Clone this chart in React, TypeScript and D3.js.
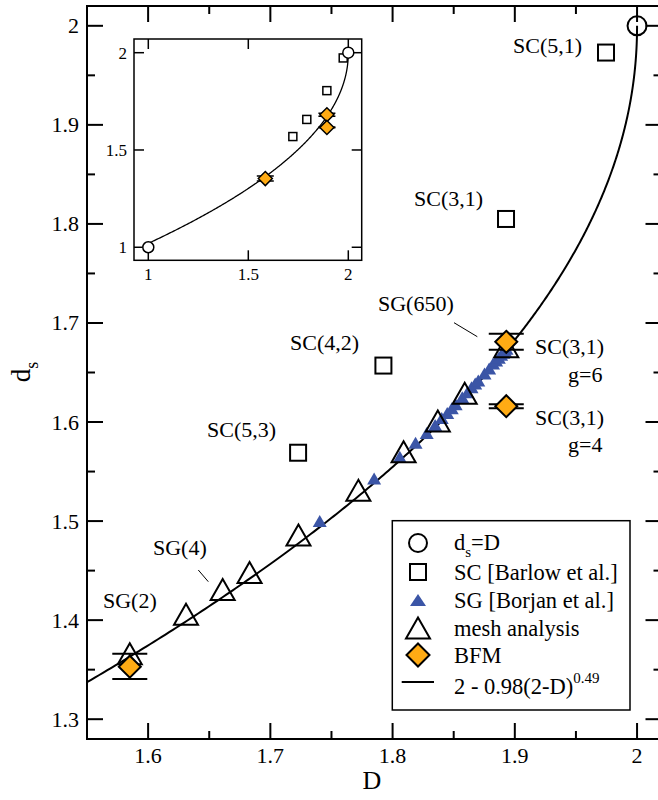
import React from "react";
import * as d3 from "d3";

// ---------- data ----------
const CIRCLE_D = [2.0];
const CIRCLE_DS = [2.0];
const INSET_CIRCLE_D = [1.0, 2.0];
const INSET_CIRCLE_DS = [1.0, 2.0];

const SC_D = [1.9746, 1.8928, 1.7925, 1.7227];
const SC_DS = [1.973, 1.805, 1.657, 1.569];

const SG_BORJAN_D = [1.7404, 1.7849, 1.8059, 1.8188, 1.8279, 1.8348, 1.8402, 1.8447, 1.8484, 1.8516, 1.857, 1.8612, 1.8646, 1.8676, 1.8701, 1.8752, 1.879, 1.8822, 1.8847, 1.8869, 1.8888, 1.8905, 1.8919, 1.8932];
const SG_BORJAN_DS = [1.5, 1.543, 1.565, 1.579, 1.589, 1.597, 1.604, 1.609, 1.614, 1.618, 1.625, 1.63, 1.635, 1.639, 1.642, 1.649, 1.654, 1.659, 1.662, 1.665, 1.668, 1.67, 1.672, 1.674];

const MESH_D = [1.585, 1.631, 1.661, 1.683, 1.723, 1.772, 1.809, 1.837, 1.859, 1.893];
const MESH_DS = [1.366, 1.406, 1.431, 1.448, 1.486, 1.531, 1.57, 1.601, 1.629, 1.676];

const BFM_D = [1.585, 1.893, 1.893];
const BFM_DS = [1.353, 1.681, 1.616];
const BFM_LO = [1.3405, 1.673, 1.614];
const BFM_HI = [1.366, 1.689, 1.618];

const FIT_A = 0.98;
const FIT_P = 0.49;

const X_TICKS = [1.6, 1.7, 1.8, 1.9, 2.0];
const X_TICK_LABELS = ["1.6", "1.7", "1.8", "1.9", "2"];
const X_MINOR = [1.55, 1.65, 1.75, 1.85, 1.95];
const Y_TICKS = [1.3, 1.4, 1.5, 1.6, 1.7, 1.8, 1.9, 2.0];
const Y_TICK_LABELS = ["1.3", "1.4", "1.5", "1.6", "1.7", "1.8", "1.9", "2"];
const Y_MINOR = [1.35, 1.45, 1.55, 1.65, 1.75, 1.85, 1.95];
const INSET_TICKS = [1, 1.5, 2];
const INSET_TICK_LABELS = ["1", "1.5", "2"];

const LEGEND_LABELS = ["SC [Barlow et al.]", "SG [Borjan et al.]", "mesh analysis", "BFM"];

// ---------- styling ----------
const FONT = '"Liberation Serif", Tinos, "Times New Roman", "DejaVu Serif", serif';
const ORANGE = "#ffab14";
const BLUE = "#3b55a6";

const M = { left: 87, top: 6, right: 661.5, bottom: 739 };
const I = { left: 134, top: 39, right: 361.7, bottom: 260.3 };

function fit(D: number) {
  return 2 - FIT_A * Math.pow(Math.max(0, 2 - D), FIT_P);
}

function tri(cx: number, cy: number, w: number, h: number) {
  return `M${cx},${cy - h / 2}L${cx - w / 2},${cy + h / 2}L${cx + w / 2},${cy + h / 2}Z`;
}
function diamond(cx: number, cy: number, r: number) {
  return `M${cx},${cy - r}L${cx + r},${cy}L${cx},${cy + r}L${cx - r},${cy}Z`;
}

export default function App() {
  const x = d3.scaleLinear().domain([1.55, 2.02]).range([M.left, M.right]);
  const y = d3.scaleLinear().domain([1.28, 2.02]).range([M.bottom, M.top]);
  const xi = d3.scaleLinear().domain([0.9285, 2.067]).range([I.left, I.right]);
  const yi = d3.scaleLinear().domain([0.933, 2.0704]).range([I.bottom, I.top]);

  const sMain = d3.range(0, 1.0001, 0.0025).map((s) => 2 - 0.45 * Math.pow(1 - s, 3));
  const lineMain = d3
    .line<number>()
    .x((d) => x(d))
    .y((d) => y(fit(d)));
  const sIn = d3.range(0, 1.0001, 0.0025).map((s) => 2 - 1.0 * Math.pow(1 - s, 3));
  const lineIn = d3
    .line<number>()
    .x((d) => xi(d))
    .y((d) => yi(fit(d)));

  const legendRows = [543, 572, 600, 628, 655, 682];
  const lx = 418;
  const tx = 454;
  const tStyle = { fontFamily: FONT };

  return (
    <svg
      width={658}
      height={800}
      style={{ position: "absolute", left: 0, top: 0, background: "#fff", fontFamily: FONT }}
    >
      <defs>
        <clipPath id="mainclip">
          <rect x={M.left} y={M.top} width={M.right - M.left} height={M.bottom - M.top} />
        </clipPath>
        <clipPath id="insetclip">
          <rect x={I.left} y={I.top} width={I.right - I.left} height={I.bottom - I.top} />
        </clipPath>
      </defs>
      <rect x={0} y={0} width={658} height={800} fill="#fff" />

      {/* main frame */}
      <rect
        x={M.left}
        y={M.top}
        width={M.right - M.left}
        height={M.bottom - M.top}
        fill="none"
        stroke="#000"
        strokeWidth={2}
      />
      {X_TICKS.map((t) => (
        <g key={"xt" + t}>
          <line x1={x(t)} x2={x(t)} y1={M.bottom} y2={M.bottom - 16} stroke="#000" strokeWidth={2} />
          <line x1={x(t)} x2={x(t)} y1={M.top} y2={M.top + 16} stroke="#000" strokeWidth={2} />
        </g>
      ))}
      {X_MINOR.map((t) => (
        <g key={"xm" + t}>
          <line x1={x(t)} x2={x(t)} y1={M.bottom} y2={M.bottom - 8} stroke="#000" strokeWidth={2} />
          <line x1={x(t)} x2={x(t)} y1={M.top} y2={M.top + 8} stroke="#000" strokeWidth={2} />
        </g>
      ))}
      {Y_TICKS.map((t) => (
        <g key={"yt" + t}>
          <line x1={M.left} x2={M.left + 16} y1={y(t)} y2={y(t)} stroke="#000" strokeWidth={2} />
          <line x1={M.right} x2={M.right - 16} y1={y(t)} y2={y(t)} stroke="#000" strokeWidth={2} />
        </g>
      ))}
      {Y_MINOR.map((t) => (
        <g key={"ym" + t}>
          <line x1={M.left} x2={M.left + 8} y1={y(t)} y2={y(t)} stroke="#000" strokeWidth={2} />
          <line x1={M.right} x2={M.right - 8} y1={y(t)} y2={y(t)} stroke="#000" strokeWidth={2} />
        </g>
      ))}
      {X_TICKS.map((t, i) => (
        <text key={"xl" + t} x={x(t)} y={763} fontSize={22} textAnchor="middle" style={tStyle}>
          {X_TICK_LABELS[i]}
        </text>
      ))}
      {Y_TICKS.map((t, i) => (
        <text key={"yl" + t} x={79} y={y(t) + 7.5} fontSize={22} textAnchor="end" style={tStyle}>
          {Y_TICK_LABELS[i]}
        </text>
      ))}
      <text x={372} y={789} fontSize={26} textAnchor="middle" style={tStyle}>
        D
      </text>
      <text transform="translate(30,372) rotate(-90)" fontSize={27} textAnchor="middle" style={tStyle}>
        d
        <tspan fontSize={18} dy={8}>
          s
        </tspan>
      </text>

      {/* plot content */}
      <g clipPath="url(#mainclip)">
        <path d={lineMain(sMain) || ""} fill="none" stroke="#000" strokeWidth={2} />
        {SG_BORJAN_D.map((d, i) => (
          <path key={"b" + i} d={tri(x(d), y(SG_BORJAN_DS[i]), 14, 12)} fill={BLUE} />
        ))}
        {MESH_D.map((d, i) => (
          <path
            key={"m" + i}
            d={tri(x(d), y(MESH_DS[i]), 24, 21)}
            fill="none"
            stroke="#000"
            strokeWidth={2}
          />
        ))}
        {SC_D.map((d, i) => (
          <rect
            key={"s" + i}
            x={x(d) - 8}
            y={y(SC_DS[i]) - 8}
            width={16}
            height={16}
            fill="none"
            stroke="#000"
            strokeWidth={2}
          />
        ))}
        {BFM_D.map((d, i) => (
          <g key={"e" + i}>
            <line x1={x(d)} x2={x(d)} y1={y(BFM_LO[i])} y2={y(BFM_HI[i])} stroke="#000" strokeWidth={2} />
            <line x1={x(d) - 17.5} x2={x(d) + 17.5} y1={y(BFM_LO[i])} y2={y(BFM_LO[i])} stroke="#000" strokeWidth={2} />
            <line x1={x(d) - 17.5} x2={x(d) + 17.5} y1={y(BFM_HI[i])} y2={y(BFM_HI[i])} stroke="#000" strokeWidth={2} />
          </g>
        ))}
        {BFM_D.map((d, i) => (
          <path key={"f" + i} d={diamond(x(d), y(BFM_DS[i]), 11)} fill={ORANGE} stroke="#000" strokeWidth={2} />
        ))}
        {CIRCLE_D.map((d, i) => (
          <circle key={"c" + i} cx={x(d)} cy={y(CIRCLE_DS[i])} r={9.5} fill="none" stroke="#000" strokeWidth={2} />
        ))}
      </g>

      {/* annotations */}
      <g fontSize={22} style={tStyle}>
        <text x={513} y={53} style={tStyle}>SC(5,1)</text>
        <text x={414} y={206} style={tStyle}>SC(3,1)</text>
        <text x={290} y={350} style={tStyle}>SC(4,2)</text>
        <text x={207} y={437} style={tStyle}>SC(5,3)</text>
        <text x={378} y={311} style={tStyle}>SG(650)</text>
        <text x={535} y={354} style={tStyle}>SC(3,1)</text>
        <text x={568} y={382} style={tStyle}>g=6</text>
        <text x={535} y={425} style={tStyle}>SC(3,1)</text>
        <text x={568} y={452} style={tStyle}>g=4</text>
        <text x={153} y={555} style={tStyle}>SG(4)</text>
        <text x={103} y={608} style={tStyle}>SG(2)</text>
      </g>
      <line x1={454} y1={322.7} x2={477.3} y2={336.7} stroke="#000" strokeWidth={1} />
      <line x1={198.3} y1={570} x2={208.3} y2={581.7} stroke="#000" strokeWidth={1} />

      {/* legend */}
      <rect x={392.3} y={520.7} width={237.7} height={189.3} fill="#fff" stroke="#000" strokeWidth={1.5} />
      <circle cx={lx} cy={legendRows[0]} r={9} fill="none" stroke="#000" strokeWidth={2} />
      <rect x={lx - 8} y={legendRows[1] - 8} width={16} height={16} fill="none" stroke="#000" strokeWidth={2} />
      <path d={tri(lx, legendRows[2], 16, 12)} fill={BLUE} />
      <path d={tri(lx, legendRows[3], 24, 21)} fill="none" stroke="#000" strokeWidth={2} />
      <path d={diamond(lx, legendRows[4], 11.5)} fill={ORANGE} stroke="#000" strokeWidth={2} />
      <line x1={401.7} x2={434} y1={legendRows[5]} y2={legendRows[5]} stroke="#000" strokeWidth={2} />
      <g fontSize={22.5}>
        <text x={tx} y={legendRows[0] + 7} style={tStyle}>
          d<tspan fontSize={15} dy={7}>s</tspan>
          <tspan dy={-7}>=D</tspan>
        </text>
        {LEGEND_LABELS.map((l, i) => (
          <text key={l} x={tx} y={legendRows[i + 1] + 8} style={tStyle}>
            {l}
          </text>
        ))}
        <text x={tx} y={legendRows[5] + 12} style={tStyle}>
          2 - 0.98(2-D)<tspan fontSize={15} dy={-11}>0.49</tspan>
        </text>
      </g>

      {/* inset */}
      <rect
        x={I.left}
        y={I.top}
        width={I.right - I.left}
        height={I.bottom - I.top}
        fill="#fff"
        stroke="#000"
        strokeWidth={1.5}
      />
      {INSET_TICKS.map((t, i) => (
        <g key={"it" + t}>
          <line x1={xi(t)} x2={xi(t)} y1={I.bottom} y2={I.bottom - 10} stroke="#000" strokeWidth={1.5} />
          <line x1={xi(t)} x2={xi(t)} y1={I.top} y2={I.top + 10} stroke="#000" strokeWidth={1.5} />
          <line x1={I.left} x2={I.left + 10} y1={yi(t)} y2={yi(t)} stroke="#000" strokeWidth={1.5} />
          <line x1={I.right} x2={I.right - 10} y1={yi(t)} y2={yi(t)} stroke="#000" strokeWidth={1.5} />
          <text x={xi(t)} y={280} fontSize={17} textAnchor="middle" style={tStyle}>
            {INSET_TICK_LABELS[i]}
          </text>
          <text x={127} y={yi(t) + 6} fontSize={17} textAnchor="end" style={tStyle}>
            {INSET_TICK_LABELS[i]}
          </text>
        </g>
      ))}
      <g clipPath="url(#insetclip)">
        <path d={lineIn(sIn) || ""} fill="none" stroke="#000" strokeWidth={1.3} />
        {SC_D.map((d, i) => (
          <rect
            key={"is" + i}
            x={xi(d) - 4}
            y={yi(SC_DS[i]) - 4}
            width={8}
            height={8}
            fill="none"
            stroke="#000"
            strokeWidth={1.5}
          />
        ))}
        {BFM_D.map((d, i) => (
          <g key={"ie" + i}>
            <line x1={xi(d) - 8.5} x2={xi(d) + 8.5} y1={yi(BFM_LO[i])} y2={yi(BFM_LO[i])} stroke="#000" strokeWidth={1.5} />
            <line x1={xi(d) - 8.5} x2={xi(d) + 8.5} y1={yi(BFM_HI[i])} y2={yi(BFM_HI[i])} stroke="#000" strokeWidth={1.5} />
          </g>
        ))}
        {BFM_D.map((d, i) => (
          <path key={"if" + i} d={diamond(xi(d), yi(BFM_DS[i]), 7)} fill={ORANGE} stroke="#000" strokeWidth={1.5} />
        ))}
        {INSET_CIRCLE_D.map((d, i) => (
          <circle key={"ic" + i} cx={xi(d)} cy={yi(INSET_CIRCLE_DS[i])} r={5.5} fill="#fff" stroke="#000" strokeWidth={1.5} />
        ))}
      </g>
    </svg>
  );
}
